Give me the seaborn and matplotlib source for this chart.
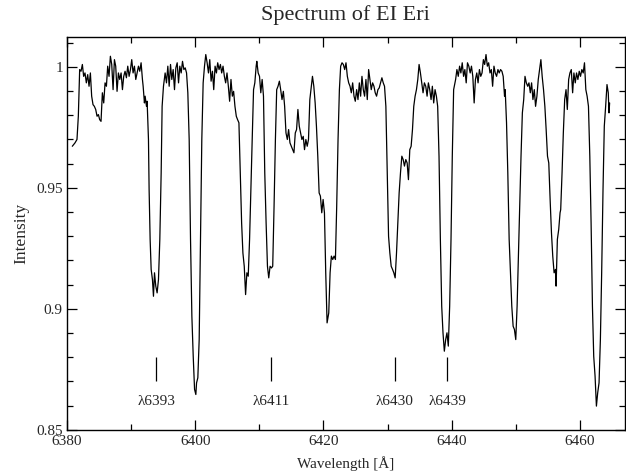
import matplotlib
matplotlib.use("Agg")
import matplotlib.pyplot as plt
import seaborn as sns
import pandas as pd
from matplotlib.ticker import MultipleLocator

# Spectrum (wavelength in Angstrom, normalised intensity)
wavelength = [
    6380.83, 6381.25, 6381.56, 6381.77, 6381.98, 6382.19, 6382.40, 6382.60, 6382.81, 6383.02,
    6383.23, 6383.44, 6383.65, 6383.85, 6384.06, 6384.27, 6384.48, 6384.69, 6384.90, 6385.10,
    6385.31, 6385.52, 6385.73, 6385.94, 6386.15, 6386.35, 6386.56, 6386.77, 6386.98, 6387.19,
    6387.40, 6387.60, 6387.81, 6388.02, 6388.23, 6388.44, 6388.65, 6388.85, 6389.06, 6389.27,
    6389.48, 6389.69, 6389.90, 6390.10, 6390.31, 6390.52, 6390.73, 6390.94, 6391.15, 6391.35,
    6391.56, 6391.77, 6391.88, 6392.08, 6392.19, 6392.40, 6392.50, 6392.71, 6392.81, 6392.97,
    6393.13, 6393.33, 6393.49, 6393.65, 6393.85, 6394.06, 6394.27, 6394.48, 6394.69, 6394.84,
    6395.05, 6395.31, 6395.52, 6395.73, 6395.94, 6396.15, 6396.35, 6396.56, 6396.77, 6396.98,
    6397.19, 6397.40, 6397.60, 6397.81, 6398.02, 6398.23, 6398.44, 6398.65, 6398.85, 6399.06,
    6399.27, 6399.48, 6399.69, 6399.90, 6400.10,
    6400.21, 6400.41, 6400.62, 6400.83, 6401.03, 6401.24, 6401.45, 6401.65, 6401.86, 6402.07,
    6402.27, 6402.48, 6402.69, 6402.89, 6403.10, 6403.31, 6403.51, 6403.72, 6403.93, 6404.13,
    6404.34, 6404.55, 6404.75, 6404.96, 6405.17, 6405.37, 6405.58, 6405.79, 6405.99, 6406.20,
    6406.41, 6406.61, 6406.82, 6407.03, 6407.24, 6407.44, 6407.65, 6407.86, 6408.06, 6408.27,
    6408.48, 6408.68, 6408.89, 6409.10, 6409.30, 6409.51, 6409.61, 6409.82, 6410.03, 6410.23,
    6410.44, 6410.65, 6410.85, 6411.06, 6411.27, 6411.47, 6411.68, 6411.89, 6412.09, 6412.30,
    6412.51, 6412.71, 6412.92, 6413.13, 6413.33, 6413.54, 6413.75, 6413.95, 6414.16, 6414.37,
    6414.57, 6414.78, 6414.99, 6415.19, 6415.40, 6415.61, 6415.81, 6416.02, 6416.23, 6416.43,
    6416.64, 6416.85, 6417.05, 6417.26, 6417.47, 6417.67, 6417.88, 6418.09, 6418.29, 6418.50,
    6418.71, 6418.91, 6419.12, 6419.33, 6419.53, 6419.74, 6419.95, 6420.16, 6420.36, 6420.57,
    6420.83, 6421.04, 6421.24, 6421.45, 6421.66, 6421.87, 6422.07, 6422.28, 6422.49, 6422.69,
    6422.90, 6423.11, 6423.32, 6423.52, 6423.73, 6423.94, 6424.15, 6424.35, 6424.56, 6424.77,
    6424.97, 6425.18, 6425.39, 6425.60, 6425.80, 6426.01, 6426.22, 6426.42, 6426.63, 6426.84,
    6427.05, 6427.25, 6427.46, 6427.67, 6427.88, 6428.08, 6428.29, 6428.50, 6428.70, 6428.91,
    6429.12, 6429.33, 6429.53, 6429.74, 6429.95, 6430.16, 6430.36, 6430.57, 6430.78, 6430.98,
    6431.19, 6431.40, 6431.61, 6431.81, 6432.02, 6432.23, 6432.44, 6432.64, 6432.85, 6433.06,
    6433.26, 6433.47, 6433.68, 6433.89, 6434.09, 6434.30, 6434.51, 6434.72, 6434.92, 6435.13,
    6435.34, 6435.54, 6435.75, 6435.96, 6436.17, 6436.37, 6436.58, 6436.79, 6436.99, 6437.20,
    6437.41, 6437.62, 6437.82, 6438.03, 6438.24, 6438.45, 6438.65, 6438.86, 6439.07, 6439.27,
    6439.48, 6439.69, 6439.90, 6440.10, 6440.31,
    6440.62, 6440.82, 6441.03, 6441.24, 6441.44, 6441.65, 6441.86, 6442.06, 6442.27, 6442.47,
    6442.68, 6442.89, 6443.09, 6443.30, 6443.51, 6443.71, 6443.92, 6444.12, 6444.33, 6444.54,
    6444.74, 6444.95, 6445.15, 6445.36, 6445.57, 6445.77, 6445.98, 6446.19, 6446.39, 6446.60,
    6446.80, 6447.01, 6447.22, 6447.42, 6447.63, 6447.84, 6448.04, 6448.25, 6448.35, 6448.56,
    6448.76, 6448.97, 6449.18, 6449.38, 6449.59, 6449.79, 6450.00, 6450.21, 6450.41, 6450.62,
    6450.82, 6451.03, 6451.24, 6451.44, 6451.65, 6451.86, 6452.06, 6452.27, 6452.47, 6452.68,
    6452.89, 6453.09, 6453.30, 6453.51, 6453.71, 6453.92, 6454.12, 6454.33, 6454.54, 6454.74,
    6454.95, 6455.15, 6455.36, 6455.57, 6455.77, 6455.98, 6456.19, 6456.29, 6456.49, 6456.70,
    6456.91, 6457.01, 6457.22, 6457.42, 6457.63, 6457.84, 6458.04, 6458.25, 6458.45, 6458.66,
    6458.87, 6459.07, 6459.28, 6459.48, 6459.69, 6459.90, 6460.10, 6460.31, 6460.52, 6460.72,
    6460.93, 6461.13, 6461.34, 6461.55, 6461.75, 6461.96, 6462.16, 6462.37, 6462.58, 6462.78,
    6462.99, 6463.20, 6463.40, 6463.61, 6463.81, 6464.02, 6464.23, 6464.43, 6464.54, 6464.64,
]
intensity = [
    0.9672, 0.9686, 0.9700, 0.9796, 0.9989, 0.9982, 1.0010, 0.9961, 0.9975, 0.9934,
    0.9968, 0.9920, 0.9975, 0.9879, 0.9844, 0.9837, 0.9824, 0.9796, 0.9803, 0.9782,
    0.9775, 0.9893, 0.9851, 0.9934, 0.9920, 1.0003, 0.9961, 1.0044, 1.0010, 0.9906,
    1.0030, 1.0003, 0.9899, 0.9975, 0.9948, 0.9975, 0.9906, 0.9961, 0.9982, 0.9955,
    1.0003, 0.9961, 0.9989, 1.0030, 0.9975, 1.0003, 0.9948, 0.9975, 1.0003, 0.9982,
    1.0017, 0.9948, 0.9920, 0.9851, 0.9879, 0.9837, 0.9858, 0.9700, 0.9493, 0.9287,
    0.9163, 0.9121, 0.9052, 0.9149, 0.9094, 0.9066, 0.9121, 0.9287, 0.9562, 0.9837,
    0.9920, 0.9975, 0.9934, 1.0003, 0.9920, 1.0010, 0.9948, 0.9989, 0.9906, 0.9996,
    1.0017, 0.9934, 1.0003, 0.9975, 1.0023, 0.9989, 0.9996, 0.9975, 0.9893, 0.9700,
    0.9287, 0.8970, 0.8804, 0.8667, 0.8646,
    0.8694, 0.8715, 0.8873, 0.9287, 0.9700, 0.9934, 1.0003, 1.0051, 1.0017, 0.9975,
    1.0030, 0.9941, 0.9982, 0.9906, 1.0003, 0.9975, 1.0017, 0.9989, 1.0010, 0.9975,
    1.0003, 0.9961, 0.9934, 0.9975, 0.9920, 0.9858, 0.9948, 0.9879, 0.9899, 0.9837,
    0.9796, 0.9782, 0.9769, 0.9562, 0.9355, 0.9231, 0.9176, 0.9059, 0.9149, 0.9135,
    0.9287, 0.9493, 0.9700, 0.9906, 0.9934, 1.0003, 1.0023, 0.9975, 0.9961, 0.9893,
    0.9948, 0.9879, 0.9562, 0.9355, 0.9176, 0.9128, 0.9176, 0.9169, 0.9176, 0.9424,
    0.9700, 0.9906, 0.9920, 0.9941, 0.9906, 0.9865, 0.9899, 0.9837, 0.9727, 0.9700,
    0.9741, 0.9686, 0.9672, 0.9658, 0.9645, 0.9727, 0.9741, 0.9824, 0.9755, 0.9727,
    0.9700, 0.9713, 0.9658, 0.9700, 0.9672, 0.9700, 0.9865, 0.9913, 0.9961, 0.9920,
    0.9851, 0.9755, 0.9631, 0.9479, 0.9466, 0.9397, 0.9452, 0.9397, 0.9149, 0.8942,
    0.8983, 0.9149, 0.9218, 0.9204, 0.9218, 0.9204, 0.9424, 0.9700, 0.9906, 1.0003,
    1.0017, 1.0010, 0.9989, 1.0017, 0.9961, 0.9934, 0.9920, 0.9893, 0.9934, 0.9879,
    0.9858, 0.9906, 0.9865, 0.9934, 0.9879, 0.9961, 0.9906, 0.9879, 0.9948, 0.9865,
    0.9989, 0.9948, 0.9906, 0.9934, 0.9920, 0.9893, 0.9879, 0.9906, 0.9913, 0.9934,
    0.9955, 0.9934, 0.9920, 0.9837, 0.9562, 0.9300, 0.9231, 0.9176, 0.9163, 0.9149,
    0.9128, 0.9231, 0.9355, 0.9479, 0.9562, 0.9631, 0.9617, 0.9590, 0.9617, 0.9603,
    0.9534, 0.9658, 0.9672, 0.9741, 0.9837, 0.9879, 0.9906, 0.9948, 1.0010, 0.9975,
    0.9934, 0.9893, 0.9934, 0.9920, 0.9879, 0.9934, 0.9906, 0.9865, 0.9920, 0.9851,
    0.9906, 0.9879, 0.9837, 0.9631, 0.9287, 0.9011, 0.8901, 0.8825, 0.8873, 0.8901,
    0.8846, 0.9011, 0.9287, 0.9631, 0.9906,
    0.9948, 0.9989, 0.9961, 1.0003, 0.9975, 1.0017, 0.9961, 0.9989, 0.9934, 1.0017,
    1.0003, 0.9975, 1.0003, 0.9961, 0.9851, 0.9948, 0.9975, 0.9934, 0.9989, 0.9961,
    0.9975, 1.0030, 1.0010, 1.0051, 1.0003, 1.0017, 0.9975, 0.9989, 0.9920, 1.0003,
    0.9975, 0.9961, 0.9989, 0.9975, 0.9989, 0.9982, 0.9961, 0.9879, 0.9906, 0.9769,
    0.9562, 0.9287, 0.9149, 0.9011, 0.8928, 0.8915, 0.8873, 0.9011, 0.9218, 0.9424,
    0.9631, 0.9810, 0.9865, 0.9961, 0.9934, 0.9920, 0.9934, 0.9893, 0.9934, 0.9865,
    0.9906, 0.9837, 0.9879, 0.9948, 0.9989, 1.0030, 0.9961, 0.9906, 0.9837, 0.9741,
    0.9631, 0.9603, 0.9452, 0.9314, 0.9218, 0.9149, 0.9163, 0.9094, 0.9287, 0.9328,
    0.9397, 0.9410, 0.9562, 0.9727, 0.9865, 0.9906, 0.9824, 0.9948, 0.9975, 0.9989,
    0.9893, 0.9975, 0.9934, 0.9975, 0.9948, 0.9982, 0.9961, 0.9989, 0.9975, 1.0017,
    0.9906, 0.9879, 0.9837, 0.9631, 0.9355, 0.9011, 0.8804, 0.8722, 0.8598, 0.8653,
    0.8694, 0.8873, 0.9149, 0.9493, 0.9755, 0.9837, 0.9927, 0.9893, 0.9810, 0.9851,
]

# Line identifications
line_labels = ["λ6393", "λ6411", "λ6430", "λ6439"]
line_positions = [6393.9, 6411.8, 6431.1, 6439.3]

df = pd.DataFrame({"Wavelength": wavelength, "Intensity": intensity})

sns.set_style("ticks")
plt.rcParams["font.family"] = ["Liberation Serif", "DejaVu Serif"]

fig = plt.figure(figsize=(6.26, 4.76), dpi=100)
ax = fig.add_axes([0.107, 0.097, 0.891, 0.826])

sns.lineplot(data=df, x="Wavelength", y="Intensity", color="black",
             linewidth=0.9, ax=ax, sort=False, estimator=None)

# marker ticks and labels for identified lines
ax.vlines(line_positions, 0.870, 0.880, color="black", linewidth=0.9)
for lab, pos in zip(line_labels, line_positions):
    ax.text(pos, 0.8618, lab, ha="center", va="center", fontsize=11)

ax.set_xlim(6380, 6467)
ax.set_ylim(0.85, 1.0125)
ax.xaxis.set_major_locator(MultipleLocator(20))
ax.xaxis.set_minor_locator(MultipleLocator(10))
ax.yaxis.set_minor_locator(MultipleLocator(0.01))
ax.set_yticks([0.85, 0.9, 0.95, 1.0])
ax.set_yticklabels(["0.85", "0.9", "0.95", "1"])
ax.tick_params(which="both", direction="in", top=True, right=True,
               labelsize=11, width=0.9, color="black")
ax.tick_params(which="major", length=7.5)
ax.tick_params(which="minor", length=4)
ax.tick_params(axis="x", pad=4)
ax.tick_params(axis="y", pad=3)
for s in ax.spines.values():
    s.set_linewidth(1.0)
    s.set_color("black")

ax.set_title("Spectrum of EI Eri", fontsize=16, pad=12)
ax.set_xlabel("Wavelength [Å]", fontsize=11, labelpad=6)
ax.set_ylabel("Intensity", fontsize=12.5, labelpad=5)

fig.savefig("out.png", dpi=100)
